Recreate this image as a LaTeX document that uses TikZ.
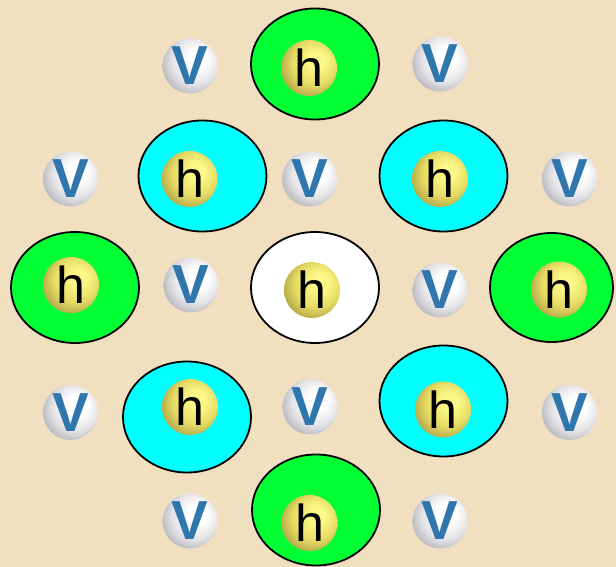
\documentclass[tikz,border=0pt]{standalone}
\usepackage{fontspec}
\setsansfont{Liberation Sans}
\usetikzlibrary{shapes.geometric}

\definecolor{paper}{RGB}{241,224,192}
\definecolor{sitegreen}{RGB}{0,255,51}
\definecolor{sitecyan}{RGB}{0,255,255}
\definecolor{vblue}{RGB}{46,118,172}
\definecolor{hlite}{RGB}{252,248,135}
\definecolor{hmid}{RGB}{230,220,100}
\definecolor{hdark}{RGB}{160,148,62}
\definecolor{vlite}{RGB}{255,255,255}
\definecolor{vmid}{RGB}{228,228,232}
\definecolor{vdark}{RGB}{160,160,168}

% shaded spheres, light from the upper right
\pgfdeclareradialshading{hball}{\pgfpoint{8bp}{8bp}}%
  {color(0bp)=(hlite); color(7bp)=(hlite); color(20bp)=(hmid);
   color(34bp)=(hdark); color(50bp)=(hdark)}
\pgfdeclareradialshading{vball}{\pgfpoint{8bp}{8bp}}%
  {color(0bp)=(vlite); color(9bp)=(vlite); color(21bp)=(vmid);
   color(35bp)=(vdark); color(50bp)=(vdark)}

\begin{document}
\begin{tikzpicture}[
      x=1pt, y=-1pt,
      site/.style={ellipse, draw, line width=1.8pt, inner sep=0pt,
                   minimum width=128pt, minimum height=111pt},
      hatom/.style={circle, inner sep=0pt, minimum size=56pt, shading=hball,
                    font=\sffamily\fontsize{52}{52}\selectfont},
      vatom/.style={circle, inner sep=0pt, minimum size=55pt, shading=vball,
                    text=vblue, font=\sffamily\bfseries\fontsize{55}{55}\selectfont}
    ]
    \fill[paper] (0,0) rectangle (616,567);
    \useasboundingbox (0,0) rectangle (616,567);

    % sites
    \node[site, fill=sitegreen] (gTop)   at (315,64)    {};
    \node[site, fill=sitecyan]  (cUL)    at (202.5,176) {};
    \node[site, fill=sitecyan]  (cUR)    at (443.5,176) {};
    \node[site, fill=sitegreen] (gLeft)  at (75,287.5)  {};
    \node[site, fill=white]     (wMid)   at (315,287.5) {};
    \node[site, fill=sitegreen, minimum width=123pt, minimum height=109pt]
      (gRight) at (551.5,287.5) {};
    \node[site, fill=sitecyan]  (cLL)    at (187,417)   {};
    \node[site, fill=sitecyan]  (cLR)    at (443.5,401) {};
    \node[site, fill=sitegreen] (gBot)   at (316,510)   {};

    % h atoms
    \node[hatom] (hTop)   at (309,68)    {h};
    \node[hatom] (hUL)    at (189.5,179) {h};
    \node[hatom] (hUR)    at (440,179)   {h};
    \node[hatom] (hLeft)  at (71,285)    {h};
    \node[hatom] (hMid)   at (312,290)   {h};
    \node[hatom] (hRight) at (559,289.5) {h};
    \node[hatom] (hLL)    at (190,407)   {h};
    \node[hatom] (hLR)    at (443,409.5) {h};
    \node[hatom] (hBot)   at (309.5,523) {h};

    % V atoms
    \node[vatom] (vTopL)  at (190,66)    {V};
    \node[vatom] (vTopR)  at (440,64)    {V};
    \node[vatom] (vUL)    at (70.5,179)  {V};
    \node[vatom] (vUM)    at (309.5,179) {V};
    \node[vatom] (vUR)    at (569.5,179) {V};
    \node[vatom] (vML)    at (191,285)   {V};
    \node[vatom] (vMR)    at (440,290)   {V};
    \node[vatom] (vLL)    at (70.5,412.5) {V};
    \node[vatom] (vLM)    at (310,407)   {V};
    \node[vatom] (vLR)    at (569.5,412.5) {V};
    \node[vatom] (vBotL)  at (190,521)   {V};
    \node[vatom] (vBotR)  at (440,521)   {V};
  \end{tikzpicture}
\end{document}
